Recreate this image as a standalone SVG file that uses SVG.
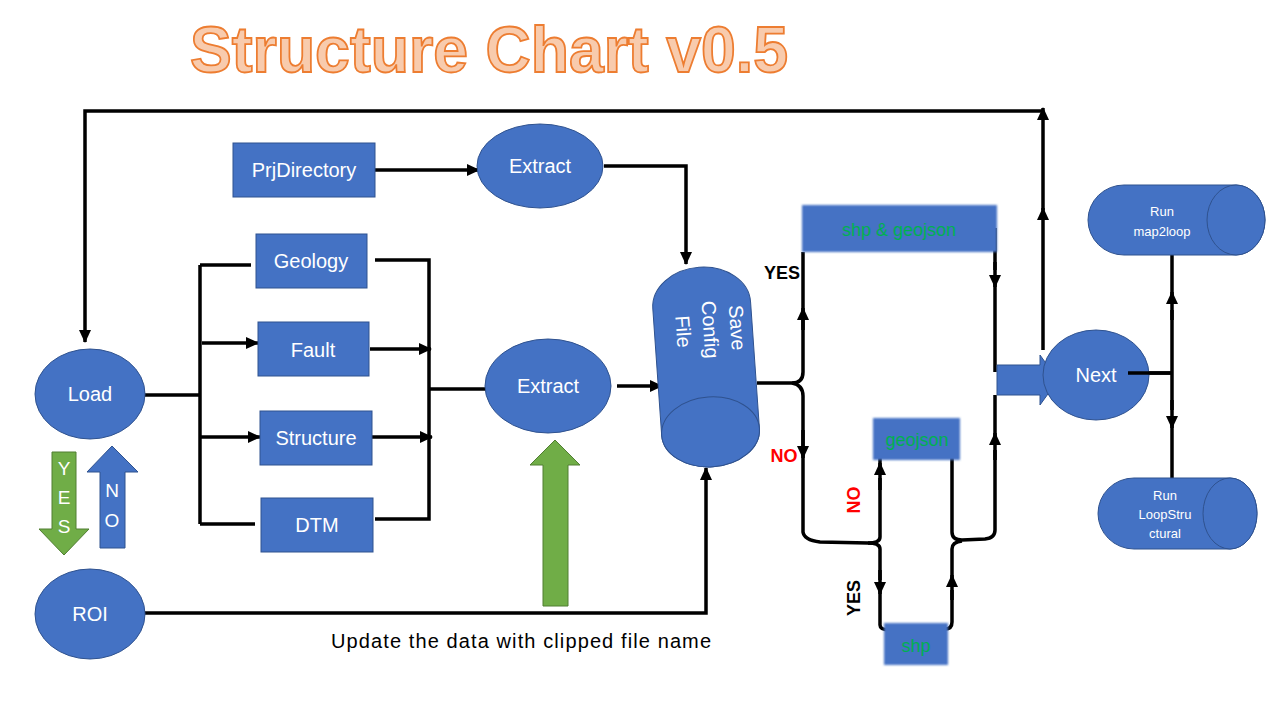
<svg xmlns="http://www.w3.org/2000/svg" width="1280" height="720" viewBox="0 0 1280 720">
<defs>
<marker id="ah" markerUnits="userSpaceOnUse" markerWidth="14" markerHeight="12" refX="12" refY="6" orient="auto"><path d="M0,0 L13,6 L0,12 Z" fill="#000"/></marker>
<filter id="soft" x="-5%" y="-20%" width="110%" height="140%"><feGaussianBlur stdDeviation="1.2"/></filter>
</defs>
<style>
.n{fill:#4472C4;stroke:#2F528F;stroke-width:1}
.g{fill:#70AD47;stroke:#507E32;stroke-width:1}
.t{font-family:"Liberation Sans",Arial,sans-serif;fill:#fff;text-anchor:middle}
.l{fill:none;stroke:#000;stroke-width:3.5}
.a{fill:none;stroke:#000;stroke-width:3.5;marker-end:url(#ah)}
.gt{font-family:"Liberation Sans",Arial,sans-serif;fill:#00B050;text-anchor:middle}
.bb{font-family:"Liberation Sans",Arial,sans-serif;font-weight:bold;text-anchor:middle}
</style>
<rect width="1280" height="720" fill="#fff"/>
<text x="489" y="72" font-family="Liberation Sans,Arial,sans-serif" font-weight="bold" font-size="64" fill="#F8CBAD" stroke="#ED7D31" stroke-width="1.8" text-anchor="middle" textLength="598" lengthAdjust="spacingAndGlyphs">Structure Chart v0.5</text>

<g id="connectors">
<path class="a" d="M1043,350 L1043,208"/>
<path class="a" d="M1043,210 L1043,108"/>
<path class="a" d="M1043,111 L85,111 L85,342"/>
<path class="a" d="M375,170 L479,170"/>
<path class="a" d="M604,166 L686,166 L686,264"/>
<path class="l" d="M145,395 L200,395"/>
<path class="l" d="M200,265 L200,524"/>
<path class="l" d="M200,265 L251,265"/>
<path class="a" d="M202,343 L258,343"/>
<path class="a" d="M200,437 L260,437"/>
<path class="l" d="M200,524 L255,524"/>
<path class="l" d="M375,260 L429,260 L429,519 L375,519"/>
<path class="a" d="M370,349 L431,349"/>
<path class="a" d="M372,437 L432,437"/>
<path class="l" d="M430,389 L486,389"/>
<path class="a" d="M617,386 L662,386"/>
<path class="a" d="M145,613 L706,613 L706,468"/>
<path class="l" d="M757,383 L792,383 Q803,383 803,372 L803,316"/>
<path class="a" d="M803,330 L803,308"/>
<path class="l" d="M803,316 L803,252"/>
<path class="l" d="M792,383 Q803,385 803,396 L803,446"/>
<path class="a" d="M803,430 L803,458"/>
<path class="l" d="M803,450 L803,532 Q804,540 820,542 L868,543 Q880,543 880,549 L880,580"/>
<path class="a" d="M880,570 L880,594"/>
<path class="l" d="M880,590 L880,625 Q880,630 890,630 L915,629"/>
<path class="l" d="M920,629 L945,629 Q952,629 952,622 L952,590"/>
<path class="a" d="M952,600 L952,575"/>
<path class="l" d="M952,580 L952,549 Q952,542 962,541"/>
<path class="l" d="M868,543 Q880,543 880,537 L880,478"/>
<path class="a" d="M880,490 L880,463"/>
<path class="l" d="M880,470 L880,458 Q880,451 890,451 L916,449"/>
<path class="l" d="M921,449 L945,450 Q952,451 952,458 L952,532 Q952,540 962,540 L985,539 Q995,538 995,530 L995,450"/>
<path class="a" d="M995,460 L995,433"/>
<path class="l" d="M995,440 L995,395"/>
<path class="l" d="M995,228 L995,270"/>
<path class="a" d="M995,262 L995,287"/>
<path class="l" d="M995,280 L995,372"/>
<path class="l" d="M1130,373 L1172,373"/>
<path class="l" d="M1172,373 L1172,310"/>
<path class="a" d="M1172,320 L1172,292"/>
<path class="l" d="M1172,300 L1172,255"/>
<path class="l" d="M1172,373 L1172,410"/>
<path class="a" d="M1172,400 L1172,428"/>
<path class="l" d="M1172,420 L1172,478"/>
</g>

<g id="load"><ellipse class="n" cx="90" cy="394" rx="55" ry="45"/><text class="t" x="90" y="401" font-size="20">Load</text></g>
<g id="roi"><ellipse class="n" cx="90" cy="614" rx="55" ry="45"/><text class="t" x="90" y="621" font-size="20">ROI</text></g>
<g id="yes-arrow"><path class="g" d="M52,452 L76,452 L76,529 L89,529 L64,555 L39,529 L52,529 Z"/>
<text class="t" x="64" y="475" font-size="19">Y</text><text class="t" x="64" y="504" font-size="19">E</text><text class="t" x="64" y="533" font-size="19">S</text></g>
<g id="no-arrow"><path class="n" d="M100,548 L125,548 L125,472 L138,472 L112,446 L87,472 L100,472 Z"/>
<text class="t" x="112" y="497" font-size="19">N</text><text class="t" x="112" y="527" font-size="19">O</text></g>

<g id="prjdirectory"><rect class="n" x="233" y="143" width="142" height="54"/><text class="t" x="304" y="177" font-size="20">PrjDirectory</text></g>
<g id="extract1"><ellipse class="n" cx="540" cy="166" rx="63" ry="42"/><text class="t" x="540" y="173" font-size="20">Extract</text></g>
<g id="geology"><rect class="n" x="256" y="234" width="111" height="54"/><text class="t" x="311" y="268" font-size="20">Geology</text></g>
<g id="fault"><rect class="n" x="258" y="322" width="111" height="54"/><text class="t" x="313" y="357" font-size="20">Fault</text></g>
<g id="structure"><rect class="n" x="260" y="411" width="112" height="54"/><text class="t" x="316" y="445" font-size="20">Structure</text></g>
<g id="dtm"><rect class="n" x="261" y="498" width="112" height="54"/><text class="t" x="317" y="532" font-size="20">DTM</text></g>
<g id="extract2"><ellipse class="n" cx="548" cy="386" rx="63" ry="47"/><text class="t" x="548" y="393" font-size="20">Extract</text></g>
<g id="up-arrow"><path class="g" d="M543,606 L568,606 L568,465 L580,465 L555,440 L530,465 L543,465 Z"/></g>
<text x="521" y="648" font-family="Liberation Sans,Arial,sans-serif" font-size="20" fill="#000" text-anchor="middle" textLength="380">Update the data with clipped file name</text>

<g id="save-config" transform="rotate(-4 706 367)">
<path class="n" d="M657,305 A49,38 0 0 1 755,305 L755,432 A49,35 0 0 1 657,432 Z"/>
<ellipse class="n" cx="706" cy="432" rx="49" ry="35"/>
<g transform="rotate(90 706 330)">
<text class="t" x="706" y="303" font-size="20">Save</text>
<text class="t" x="706" y="330" font-size="20">Config</text>
<text class="t" x="706" y="357" font-size="20">File</text>
</g>
</g>

<g id="shp-geojson"><rect x="802" y="205" width="195" height="47" fill="#4472C4" filter="url(#soft)"/><text class="gt" x="899" y="236" font-size="18">shp &amp; geojson</text></g>
<g id="geojson"><rect x="873" y="418" width="87" height="42" fill="#4472C4" filter="url(#soft)"/><text class="gt" x="917" y="446" font-size="18">geojson</text></g>
<g id="shp"><rect x="884" y="623" width="64" height="42" fill="#4472C4" filter="url(#soft)"/><text class="gt" x="916" y="652" font-size="18">shp</text></g>

<text class="bb" x="782" y="279" font-size="18" fill="#000">YES</text>
<text class="bb" x="784" y="462" font-size="18" fill="#FF0000">NO</text>
<text class="bb" font-size="18" fill="#FF0000" transform="translate(860 500) rotate(-90)">NO</text>
<text class="bb" font-size="18" fill="#000" transform="translate(860 598) rotate(-90)">YES</text>

<g id="next-arrow"><path class="n" d="M997,365 L1040,365 L1040,355 L1058,380 L1040,405 L1040,395 L997,395 Z" stroke="none"/></g>
<g id="next"><ellipse class="n" cx="1096" cy="375" rx="53" ry="45"/><text class="t" x="1096" y="382" font-size="20">Next</text><path class="l" d="M1128,373 L1172,373"/></g>

<g id="map2loop">
<path class="n" d="M1124,185 L1236,185 A29,35 0 0 1 1236,255 L1124,255 A36,35 0 0 1 1124,185 Z"/>
<ellipse class="n" cx="1236" cy="220" rx="29" ry="35"/>
<text class="t" x="1162" y="216" font-size="13">Run</text><text class="t" x="1162" y="236" font-size="13">map2loop</text>
</g>
<g id="loopstructural">
<path class="n" d="M1134,478 L1230,478 A27,35.5 0 0 1 1230,549 L1134,549 A36,35.5 0 0 1 1134,478 Z"/>
<ellipse class="n" cx="1230" cy="513.5" rx="27" ry="35.5"/>
<text class="t" x="1165" y="500" font-size="13">Run</text><text class="t" x="1165" y="519" font-size="13">LoopStru</text><text class="t" x="1165" y="538" font-size="13">ctural</text>
</g>
</svg>
